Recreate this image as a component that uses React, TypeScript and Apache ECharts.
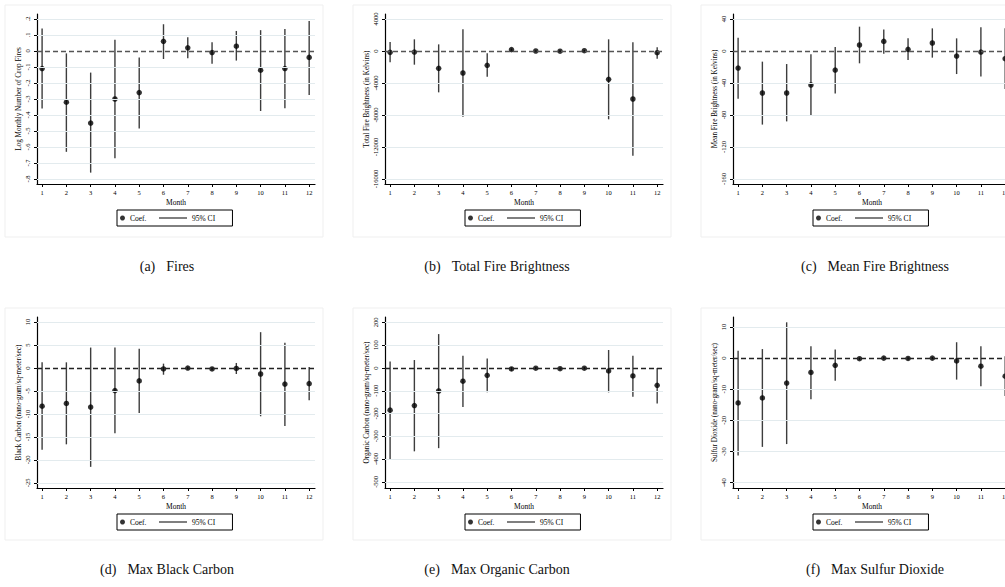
import React, { useEffect, useRef } from "react";
import * as echarts from "echarts";

const months = [1, 2, 3, 4, 5, 6, 7, 8, 9, 10, 11, 12];

// (a) Fires
const firesCoef = [-0.11, -0.32, -0.45, -0.3, -0.26, 0.06, 0.02, -0.01, 0.03, -0.12, -0.11, -0.04];
const firesLo = [-0.36, -0.63, -0.76, -0.67, -0.485, -0.05, -0.046, -0.08, -0.06, -0.375, -0.358, -0.275];
const firesHi = [0.14, -0.015, -0.135, 0.07, -0.04, 0.167, 0.085, 0.054, 0.125, 0.13, 0.138, 0.188];
const firesTicks = [-0.8, -0.7, -0.6, -0.5, -0.4, -0.3, -0.2, -0.1, 0, 0.1, 0.2];

// (b) Total Fire Brightness
const totalCoef = [-170, -130, -2170, -2750, -1790, 170, 0, -20, 40, -3540, -6000, -210];
const totalLo = [-1420, -1710, -5170, -8210, -3210, 30, -100, -120, -60, -8540, -13080, -960];
const totalHi = [1120, 1460, 830, 2710, -290, 310, 100, 80, 140, 1460, 1080, 460];
const totalTicks = [-16000, -12000, -8000, -4000, 0, 4000];

// (c) Mean Fire Brightness
const meanCoef = [-21.3, -52.5, -52.5, -42.5, -23.8, 7.5, 12, 2, 10, -6.3, -1.3, -9.6];
const meanLo = [-59.6, -92, -88, -81, -53, -15.4, -3.3, -11.3, -8.3, -28.8, -32, -47.5];
const meanHi = [16.7, -13.3, -16.3, -4.2, 5, 30.4, 27, 15.8, 28.3, 15.8, 29.6, 28.3];
const meanTicks = [-160, -120, -80, -40, 0, 40];

// (d) Max Black Carbon
const bcCoef = [-8.3, -7.7, -8.5, -4.9, -2.8, -0.2, 0, -0.2, -0.1, -1.3, -3.5, -3.4];
const bcLo = [-17.8, -16.6, -21.5, -14.2, -9.8, -1.46, -0.3, -0.5, -1.3, -10.5, -12.6, -7.0];
const bcHi = [1.24, 1.24, 4.45, 4.45, 4.2, 0.95, 0.3, 0.1, 1.1, 7.8, 5.5, 0.2];
const bcTicks = [-25, -20, -15, -10, -5, 0, 5, 10];

// (e) Max Organic Carbon
const ocCoef = [-185, -165, -101, -58, -32, -4, -1, -3, -1, -13, -35, -76];
const ocLo = [-403, -366, -352, -171, -107, -12, -6, -8, -6, -107, -126, -156];
const ocHi = [29, 35, 149, 54, 42, 4, 4, 2, 4, 79, 54, 0];
const ocTicks = [-500, -400, -300, -200, -100, 0, 100, 200];

// (f) Max Sulfur Dioxide
const so2Coef = [-14.4, -12.8, -8.0, -4.6, -2.3, -0.2, 0, -0.1, 0, -0.9, -2.6, -5.8];
const so2Lo = [-31.3, -28.5, -27.6, -13.2, -7.3, -0.6, -0.4, -0.5, -0.4, -6.9, -9.0, -12.2];
const so2Hi = [2.4, 2.9, 11.5, 3.8, 2.8, 0.2, 0.4, 0.3, 0.4, 5.1, 3.8, 0.6];
const so2Ticks = [-40, -30, -20, -10, 0, 10];

const yNames = [
  "Log Monthly Number of Crop Fires",
  "Total Fire Brightness (in Kelvins)",
  "Mean Fire Brightness (in Kelvins)",
  "Black Carbon (nano-gram/sq-meter/sec)",
  "Organic Carbon (nano-gram/sq-meter/sec)",
  "Sulfur Dioxide (nano-gram/sq-meter/sec)",
];
const captionTags = ["(a)", "(b)", "(c)", "(d)", "(e)", "(f)"];
const captionTexts = [
  "Fires",
  "Total Fire Brightness",
  "Mean Fire Brightness",
  "Max Black Carbon",
  "Max Organic Carbon",
  "Max Sulfur Dioxide",
];

const SERIF = "'Liberation Serif', 'Times New Roman', serif";

const stataFmt = (v: number) => {
  const r = Math.round(v * 1000) / 1000;
  if (r === 0) return "0";
  return String(r).replace("0.", ".");
};

export default function App() {
  const ref = useRef<HTMLDivElement>(null);
  useEffect(() => {
    const chart = echarts.init(ref.current!, null, { renderer: "svg" });

    const panels = [
      { coef: firesCoef, lo: firesLo, hi: firesHi, ticks: firesTicks, min: -0.831, max: 0.231, fmt: stataFmt, left: 37, top: 14, h: 170, cx: 167, cy: 266, zc: "#555" },
      { coef: totalCoef, lo: totalLo, hi: totalHi, ticks: totalTicks, min: -16625, max: 4625, fmt: (v: number) => String(v), left: 385, top: 14, h: 170, cx: 497, cy: 266, zc: "#555" },
      { coef: meanCoef, lo: meanLo, hi: meanHi, ticks: meanTicks, min: -166.25, max: 46.25, fmt: (v: number) => String(v), left: 733, top: 14, h: 170, cx: 875, cy: 266, zc: "#555" },
      { coef: bcCoef, lo: bcLo, hi: bcHi, ticks: bcTicks, min: -26.1, max: 11.1, fmt: (v: number) => String(v), left: 37, top: 317, h: 171, cx: 167, cy: 569, zc: "#222" },
      { coef: ocCoef, lo: ocLo, hi: ocHi, ticks: ocTicks, min: -527, max: 224, fmt: (v: number) => String(v), left: 385, top: 317, h: 171, cx: 497, cy: 569, zc: "#222" },
      { coef: so2Coef, lo: so2Lo, hi: so2Hi, ticks: so2Ticks, min: -41.7, max: 13.2, fmt: (v: number) => String(v), left: 733, top: 317, h: 171, cx: 875, cy: 569, zc: "#222" },
    ];

    const grid: any[] = [];
    const xAxis: any[] = [];
    const yAxis: any[] = [];
    const series: any[] = [];
    const legend: any[] = [];
    const graphic: any[] = [];

    panels.forEach((p, i) => {
      grid.push({
        left: p.left,
        top: p.top,
        width: 278,
        height: p.h,
        containLabel: false,
        outerBoundsMode: "none",
      });
      xAxis.push({
        type: "value",
        gridIndex: i,
        min: 0.79,
        max: 12.24,
        name: "Month",
        nameLocation: "middle",
        nameGap: 14,
        nameMoveOverlap: false,
        nameTextStyle: { fontFamily: SERIF, fontSize: 7.5, color: "#000" },
        axisLine: { onZero: false, lineStyle: { color: "#000", width: 1.2 } },
        axisTick: { customValues: months, length: 3, lineStyle: { color: "#000", width: 1 } },
        axisLabel: { customValues: months, margin: 5, fontFamily: SERIF, fontSize: 6.5, color: "#000" },
        splitLine: { show: false },
      });
      yAxis.push({
        type: "value",
        gridIndex: i,
        min: p.min,
        max: p.max,
        name: yNames[i],
        nameLocation: "middle",
        nameGap: 15,
        nameRotate: 90,
        nameMoveOverlap: false,
        nameTextStyle: { fontFamily: SERIF, fontSize: 7.2, color: "#000" },
        axisLine: { show: true, onZero: false, lineStyle: { color: "#000", width: 1.2 } },
        axisTick: { show: true, customValues: p.ticks, length: 3, lineStyle: { color: "#000", width: 1 } },
        axisLabel: {
          customValues: p.ticks,
          rotate: 90,
          align: "center",
          verticalAlign: "bottom",
          margin: 6,
          fontFamily: SERIF,
          fontSize: 6.5,
          color: "#000",
          formatter: p.fmt,
        },
        splitLine: { show: false },
      });
      // grid lines & zero reference line
      series.push({
        type: "line",
        name: "_ref" + i,
        xAxisIndex: i,
        yAxisIndex: i,
        data: [],
        silent: true,
        z: 1,
        markLine: {
          silent: true,
          symbol: ["none", "none"],
          label: { show: false },
          animation: false,
          data: [
            ...p.ticks
              .filter((t) => t !== 0)
              .map((t) => ({ yAxis: t, lineStyle: { color: "#e3ebee", width: 1, type: "solid" } })),
            { yAxis: 0, lineStyle: { color: p.zc, width: 1.4, type: [5, 3] } },
          ],
        },
      });
      series.push({
        type: "custom",
        name: "95% CI",
        xAxisIndex: i,
        yAxisIndex: i,
        z: 2,
        itemStyle: { color: "#555" },
        data: months.map((m, k) => [m, p.lo[k], p.hi[k]]),
        encode: { x: 0, y: [1, 2] },
        renderItem: (_params: any, api: any) => {
          const a = api.coord([api.value(0), api.value(1)]);
          const b = api.coord([api.value(0), api.value(2)]);
          return {
            type: "line",
            shape: { x1: a[0], y1: a[1], x2: b[0], y2: b[1] },
            style: { stroke: "#3d3d3d", lineWidth: 1.4 },
          };
        },
      });
      series.push({
        type: "scatter",
        name: "Coef.",
        xAxisIndex: i,
        yAxisIndex: i,
        z: 3,
        symbol: "circle",
        symbolSize: 5.5,
        itemStyle: { color: "#000" },
        data: months.map((m, k) => [m, p.coef[k]]),
      });
      legend.push({
        data: [{ name: "Coef.", icon: "circle", itemStyle: { color: "#000" } }],
        left: p.left + 80,
        top: p.top + p.h + 26,
        orient: "horizontal",
        itemWidth: 5,
        itemHeight: 5,
        padding: [4, 86, 4, 3],
        borderColor: "#000",
        borderWidth: 1,
        backgroundColor: "#fff",
        selectedMode: false,
        z: 3,
        textStyle: { fontFamily: SERIF, fontSize: 7.5, color: "#000", lineHeight: 8 },
      });
      legend.push({
        data: [{ name: "95% CI", icon: "path://M0 0H56V3H0Z", itemStyle: { color: "#555" } }],
        left: p.left + 122,
        top: p.top + p.h + 30,
        orient: "horizontal",
        itemWidth: 28,
        itemHeight: 5,
        padding: 0,
        selectedMode: false,
        z: 4,
        textStyle: { fontFamily: SERIF, fontSize: 7.5, color: "#000", lineHeight: 8 },
      });
      graphic.push({
        type: "rect",
        silent: true,
        z: -10,
        shape: { x: p.left - 32, y: p.top - 9, width: 318, height: 232 },
        style: { fill: "none", stroke: "#efefef", lineWidth: 1 },
      });
      graphic.push({
        type: "text",
        silent: true,
        x: p.cx - 6,
        y: p.cy,
        style: {
          text: captionTags[i],
          fontFamily: SERIF,
          fontSize: 14,
          fill: "#111",
          textAlign: "right",
          textVerticalAlign: "middle",
        },
        // tag placed left of the caption text block
        position: undefined,
      });
      graphic.push({
        type: "text",
        silent: true,
        x: p.cx - 6 + 11,
        y: p.cy,
        style: {
          text: captionTexts[i],
          fontFamily: SERIF,
          fontSize: 14,
          fill: "#111",
          textAlign: "left",
          textVerticalAlign: "middle",
        },
      });
    });

    // shift each caption so that tag + text is centred on the panel
    chart.setOption({
      animation: false,
      backgroundColor: "#fff",
      grid,
      xAxis,
      yAxis,
      series,
      legend,
      graphic,
    });

    // measure texts to centre the two-part captions
    const measure = (t: string) => echarts.format.getTextRect
      ? (echarts as any).format.getTextRect(t, "14px " + SERIF).width
      : t.length * 6;
    const tagged: any[] = [];
    panels.forEach((p, i) => {
      const wTag = measure(captionTags[i]);
      const wTxt = measure(captionTexts[i]);
      const gap = 11;
      const total = wTag + gap + wTxt;
      const start = p.cx - total / 2;
      tagged.push({ x: start + wTag, y: p.cy }, { x: start + wTag + gap, y: p.cy });
    });
    const g2: any[] = [];
    let gi = 0;
    graphic.forEach((g) => {
      if (g.type === "text") {
        g2.push({ ...g, x: tagged[gi].x, y: tagged[gi].y });
        gi++;
      } else g2.push(g);
    });
    chart.setOption({ graphic: g2 }, { replaceMerge: ["graphic"] });

    return () => chart.dispose();
  }, []);
  return (
    <div
      ref={ref}
      style={{ position: "fixed", left: 0, top: 0, width: 1005, height: 587, background: "#fff" }}
    />
  );
}
